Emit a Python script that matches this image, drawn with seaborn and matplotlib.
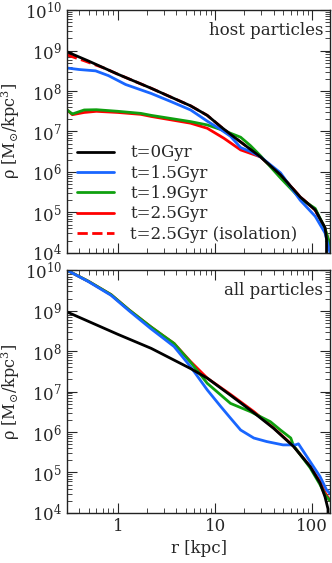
import numpy as np
import pandas as pd
import matplotlib
matplotlib.use('Agg')
import matplotlib.pyplot as plt
import seaborn as sns

# host particles (top panel)
host_r_t0 = [0.3, 0.5, 1.0, 2.2, 3.5, 5.6, 8.3, 11.4, 14.4, 18.3, 29.3, 47, 75, 107, 135, 140, 140]
host_rho_t0 = [9.3e8, 5.5e8, 2.6e8, 1.17e8, 7.1e7, 4.3e7, 2.5e7, 1.32e7, 8.5e6, 5.5e6,
               2.35e6, 8.5e5, 2.4e5, 1.15e5, 4.2e4, 2.2e4, 3e3]
host_r_t15 = [0.3, 0.4, 0.59, 0.8, 1.2, 2.2, 3.5, 5.6, 8.3, 11.4, 14.4, 18.3, 23, 29.3, 47, 75, 107, 135, 152]
host_rho_t15 = [3.7e8, 3.4e8, 3.15e8, 2.4e8, 1.45e8, 8.7e7, 5.5e7, 3.4e7, 1.8e7, 1.12e7, 7.6e6, 4.0e6,
                3.2e6, 2.35e6, 9.5e5, 2.0e5, 8.0e4, 3.1e4, 1.0e4]
host_r_t19 = [0.3, 0.34, 0.45, 0.6, 1.0, 1.72, 2.2, 5.6, 8.3, 12.3, 18.3, 23, 29.3, 47, 75, 107, 135, 152]
host_rho_t19 = [3.4e7, 2.7e7, 3.4e7, 3.45e7, 3.15e7, 2.8e7, 2.5e7, 1.75e7, 1.45e7, 1.05e7, 7.2e6,
                4.5e6, 2.5e6, 7.1e5, 2.2e5, 1.25e5, 4.0e4, 1.6e4]
host_r_t25 = [0.3, 0.34, 0.45, 0.6, 1.0, 1.72, 2.2, 5.6, 8.3, 12.3, 18.3, 29.3, 47, 75, 107, 135, 152]
host_rho_t25 = [3.4e7, 2.6e7, 2.95e7, 3.15e7, 2.95e7, 2.65e7, 2.35e7, 1.6e7, 1.2e7, 6.8e6, 3.5e6,
                2.35e6, 8.5e5, 2.4e5, 1.15e5, 4.0e4, 1.3e4]
host_r_iso = [0.3, 0.45, 0.72, 1.0, 2.2, 3.5, 5.6, 8.3, 11.4, 14.4, 18.3, 29.3, 47, 75, 107, 135, 152]
host_rho_iso = [7.8e8, 5.6e8, 3.7e8, 2.6e8, 1.17e8, 7.1e7, 4.3e7, 2.5e7, 1.32e7, 8.5e6,
                5.5e6, 2.35e6, 8.5e5, 2.4e5, 1.15e5, 4.0e4, 1.4e4]

# all particles (bottom panel)
all_r_t0 = [0.3, 1.0, 2.2, 5.6, 8.3, 14.4, 25, 40, 64, 95, 120, 135, 145, 145]
all_rho_t0 = [9.3e8, 2.6e8, 1.17e8, 3.7e7, 2.15e7, 8.1e6, 3.0e6, 1.23e6, 4.4e5, 1.4e5, 5.5e4, 2.5e4,
              1.25e4, 3e3]
all_r_t15 = [0.3, 0.5, 0.85, 1.3, 2.18, 3.0, 3.78, 5.6, 8.3, 11.4, 14.4, 18.3, 25, 34, 50, 67, 72, 95,
             120, 140, 152]
all_rho_t15 = [1.0e10, 5.2e9, 2.4e9, 1.0e9, 3.6e8, 2.0e8, 1.3e8, 4.1e7, 1.1e7, 4.3e6, 2.2e6, 1.12e6,
               7.1e5, 5.8e5, 4.8e5, 4.8e5, 5.1e5, 1.85e5, 7.9e4, 3.7e4, 3.0e4]
all_r_t19 = [0.3, 0.5, 0.85, 1.3, 2.18, 3.0, 3.78, 5.6, 8.3, 14.4, 23, 37, 47, 60, 64, 95, 120, 135, 152]
all_rho_t19 = [1.0e10, 5.3e9, 2.5e9, 1.05e9, 4.0e8, 2.3e8, 1.55e8, 5.3e7, 1.6e7, 5.1e6, 3.2e6, 1.8e6,
               1.12e6, 7.1e5, 4.6e5, 1.3e5, 5.0e4, 2.8e4, 2.0e4]
all_r_t25 = [0.3, 0.5, 0.85, 1.3, 2.18, 3.0, 3.78, 5.6, 8.3, 14.4, 25, 40, 64, 95, 120, 135, 152]
all_rho_t25 = [1.0e10, 5.3e9, 2.5e9, 1.05e9, 4.0e8, 2.3e8, 1.55e8, 5.5e7, 2.15e7, 8.5e6, 3.2e6, 1.26e6,
               4.5e5, 1.4e5, 6.0e4, 3.2e4, 2.0e4]

labels = ['t=0Gyr', 't=1.5Gyr', 't=1.9Gyr', 't=2.5Gyr', 't=2.5Gyr (isolation)']
colors = {'t=0Gyr': '#000000', 't=1.5Gyr': '#1966ff', 't=1.9Gyr': '#0fa00f',
          't=2.5Gyr': '#ff0000', 't=2.5Gyr (isolation)': '#ff0000'}

sns.set_style('ticks')
plt.rcParams.update({
    'font.family': 'DejaVu Serif',
    'mathtext.fontset': 'dejavuserif',
    'font.size': 12,
    'xtick.direction': 'in',
    'ytick.direction': 'in',
    'xtick.top': True,
    'ytick.right': True,
    'xtick.major.size': 7,
    'ytick.major.size': 7,
    'xtick.minor.size': 3.5,
    'ytick.minor.size': 3.5,
    'axes.linewidth': 1.0,
    'axes.edgecolor': '#222222',
})

fig = plt.figure(figsize=(3.32, 5.63), dpi=100)
ax_top = fig.add_axes([0.202, 0.551, 0.792, 0.431])
ax_bot = fig.add_axes([0.202, 0.089, 0.792, 0.431])

top_series = [
    ('t=2.5Gyr (isolation)', host_r_iso, host_rho_iso),
    ('t=2.5Gyr', host_r_t25, host_rho_t25),
    ('t=1.9Gyr', host_r_t19, host_rho_t19),
    ('t=1.5Gyr', host_r_t15, host_rho_t15),
    ('t=0Gyr', host_r_t0, host_rho_t0),
]
bot_series = [
    ('t=2.5Gyr', all_r_t25, all_rho_t25),
    ('t=1.9Gyr', all_r_t19, all_rho_t19),
    ('t=1.5Gyr', all_r_t15, all_rho_t15),
    ('t=0Gyr', all_r_t0, all_rho_t0),
]

for ax, series in [(ax_top, top_series), (ax_bot, bot_series)]:
    for label, r, rho in series:
        df = pd.DataFrame({'r': r, 'rho': rho})
        ls = '--' if 'isolation' in label else '-'
        sns.lineplot(data=df, x='r', y='rho', ax=ax, color=colors[label], linewidth=2.0,
                     linestyle=ls, label=label, estimator=None, sort=False)
    ax.set_xscale('log')
    ax.set_yscale('log')
    ax.set_xlim(0.3, 152)
    ax.set_ylim(1e4, 1e10)
    ax.set_yticks([1e4, 1e5, 1e6, 1e7, 1e8, 1e9, 1e10])
    ax.set_xticks([1, 10, 100])
    ax.set_ylabel(r'ρ [M$_{\odot}$/kpc$^3$]', fontsize=11.5)
    ax.tick_params(which='both', top=True, right=True, direction='in')

ax_top.set_xlabel('')
ax_top.set_xticklabels([])
ax_bot.set_xticklabels(['1', '10', '100'])
ax_bot.set_xlabel('r [kpc]')

ax_top.text(0.975, 0.95, 'host particles', transform=ax_top.transAxes, ha='right', va='top')
ax_bot.text(0.975, 0.95, 'all particles', transform=ax_bot.transAxes, ha='right', va='top')

handles, labs = ax_top.get_legend_handles_labels()
h_map = dict(zip(labs, handles))
ax_top.legend([h_map[l] for l in labels], labels, loc='lower left', frameon=False,
              handlelength=2.2, handletextpad=1.0, labelspacing=0.2,
              borderaxespad=0.2, bbox_to_anchor=(0.0, 0.0))
ax_bot.get_legend().remove()

for ax in (ax_top, ax_bot):
    ax.yaxis.set_label_coords(-0.17, 0.5)

fig.savefig('out.png', dpi=100)
